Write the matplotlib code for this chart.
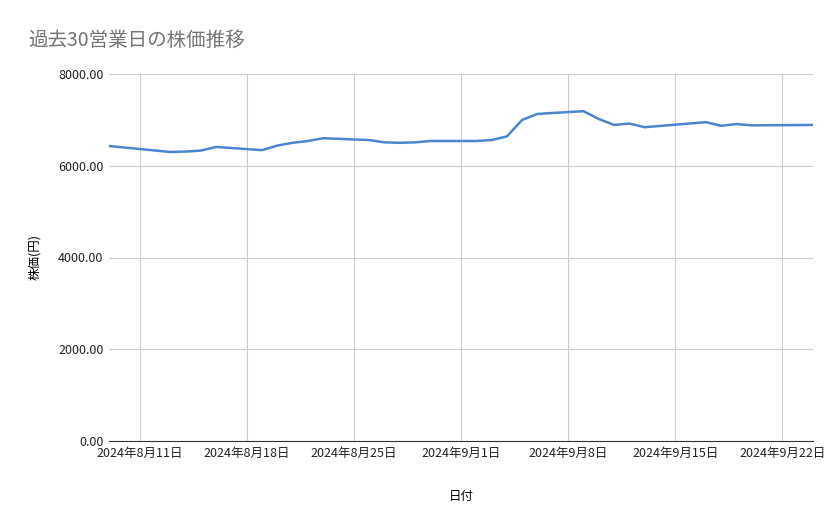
import matplotlib
matplotlib.use("Agg")
import matplotlib.pyplot as plt
import matplotlib.dates as mdates
import pandas as pd

plt.rcParams['font.family'] = ['Noto Sans CJK JP', 'DejaVu Sans']

dates = ["2024-08-09","2024-08-13","2024-08-14","2024-08-15","2024-08-16","2024-08-19","2024-08-20",
         "2024-08-21","2024-08-22","2024-08-23","2024-08-26","2024-08-27","2024-08-28","2024-08-29",
         "2024-08-30","2024-09-02","2024-09-03","2024-09-04","2024-09-05","2024-09-06","2024-09-09",
         "2024-09-10","2024-09-11","2024-09-12","2024-09-13","2024-09-17","2024-09-18","2024-09-19",
         "2024-09-20","2024-09-24"]
prices = [6430,6300,6310,6330,6410,6340,6440,6500,6540,6600,6560,6510,6500,6510,6540,
          6540,6560,6640,7000,7130,7190,7020,6890,6920,6840,6950,6870,6910,6880,6890]
tick_dates = ["2024-08-11","2024-08-18","2024-08-25","2024-09-01","2024-09-08","2024-09-15","2024-09-22"]

x = pd.to_datetime(dates)
ticks = pd.to_datetime(tick_dates)

fig = plt.figure(figsize=(8.39, 5.19), dpi=100)
ax = fig.add_axes([109/839, 1-441/519, (813-109)/839, (441-74)/519])
ax.plot(x, prices, color='#4a86d0', linewidth=1.8)
ax.set_xlim(x[0], x[-1])
ax.set_ylim(0, 8000)
ax.set_yticks([0, 2000, 4000, 6000, 8000])
ax.set_yticklabels([f"{v:.2f}" for v in [0, 2000, 4000, 6000, 8000]], fontsize=9)
ax.set_xticks(ticks)
ax.set_xticklabels([f"{d.year}年{d.month}月{d.day}日" for d in ticks], fontsize=9)
ax.grid(True, color='#cccccc', linewidth=0.8)
ax.set_axisbelow(True)
for s in ['top', 'right', 'left']:
    ax.spines[s].set_visible(False)
ax.spines['bottom'].set_color('#333333')
ax.tick_params(length=0, pad=4, colors='#222222')
ax.set_xlabel("日付", fontsize=9, labelpad=22)
ax.set_ylabel("株価(円)", fontsize=9, labelpad=12)
fig.text(28/839, 1-40/519, "過去30営業日の株価推移", fontsize=14, color='#757575', va='center')
fig.savefig("out.png", dpi=100, facecolor='white')
